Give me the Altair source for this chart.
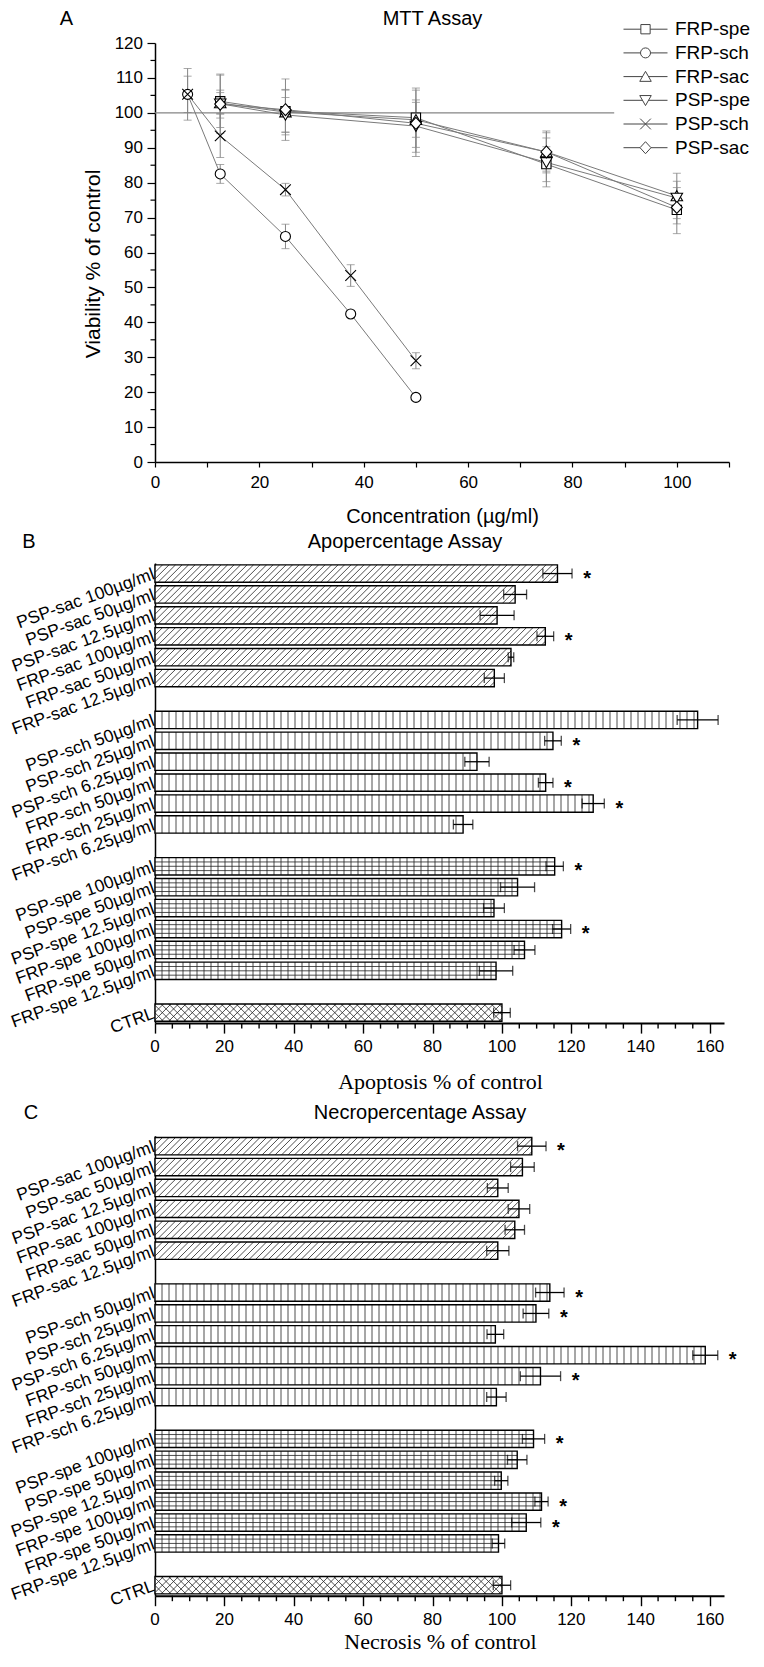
import json
import altair as alt
import pandas as pd

FONT = "Liberation Sans"
SERIF = "Liberation Serif"

# ---------------- Panel A : MTT assay (viability, % of control) ----------------
series_names = ["FRP-spe", "FRP-sch", "FRP-sac", "PSP-spe", "PSP-sch", "PSP-sac"]
conc_sch = [6.25, 12.5, 25, 37.5, 50]
conc_std = [12.5, 25, 50, 75, 100]

frp_spe = [103.3, 100.5, 98.6, 85.3, 72.2]
frp_spe_err = [7.5, 6.0, 8.5, 5.0, 4.0]
frp_sch = [105.3, 82.5, 64.6, 42.4, 18.5]
frp_sch_err = [7.4, 2.7, 3.5, 1.0, 1.0]
frp_sac = [102.8, 100.2, 98.0, 88.8, 76.2]
frp_sac_err = [3.0, 6.5, 5.0, 6.0, 6.5]
psp_spe = [102.6, 99.4, 96.2, 85.8, 75.6]
psp_spe_err = [8.5, 5.0, 7.5, 7.0, 3.0]
psp_sch = [105.3, 93.4, 78.0, 53.4, 29.0]
psp_sch_err = [5.2, 6.2, 1.8, 3.1, 2.3]
psp_sac = [102.5, 100.9, 97.0, 88.8, 72.9]
psp_sac_err = [4.0, 8.8, 9.5, 5.5, 7.5]

control_level = [100]
control_line_start = [0]
control_line_end = [88]

a_x_ticks = list(range(0, 111, 10))
a_y_major = list(range(0, 121, 10))
a_y_minor = list(range(5, 120, 10))

# ---------------- Panels B and C : bar categories ----------------
bar_labels = ["PSP-sac 100µg/ml", "PSP-sac 50µg/ml", "PSP-sac 12.5µg/ml",
              "FRP-sac 100µg/ml", "FRP-sac 50µg/ml", "FRP-sac 12.5µg/ml",
              "PSP-sch 50µg/ml", "PSP-sch 25µg/ml", "PSP-sch 6.25µg/ml",
              "FRP-sch 50µg/ml", "FRP-sch 25µg/ml", "FRP-sch 6.25µg/ml",
              "PSP-spe 100µg/ml", "PSP-spe 50µg/ml", "PSP-spe 12.5µg/ml",
              "FRP-spe 100µg/ml", "FRP-spe 50µg/ml", "FRP-spe 12.5µg/ml",
              "CTRL"]
bar_slots = [0, 1, 2, 3, 4, 5, 7, 8, 9, 10, 11, 12, 14, 15, 16, 17, 18, 19, 21]
bar_patterns = ["diag"] * 6 + ["vert"] * 6 + ["grid"] * 6 + ["cross"]

apop_values = [116.0, 103.8, 98.6, 112.5, 102.6, 97.8,
               156.4, 114.7, 92.8, 112.6, 126.3, 88.8,
               115.2, 104.5, 97.7, 117.2, 106.5, 98.3, 100.0]
apop_errs = [4.2, 3.3, 4.9, 2.4, 0.8, 2.9,
             5.9, 2.4, 3.5, 2.1, 3.2, 2.8,
             2.5, 4.9, 3.0, 2.6, 3.0, 4.8, 2.4]
apop_stars = [1, 0, 0, 1, 0, 0, 0, 1, 0, 1, 1, 0, 1, 0, 0, 1, 0, 0, 0]

necro_values = [108.6, 105.9, 98.8, 104.9, 103.7, 98.8,
                113.8, 109.8, 98.1, 158.6, 111.1, 98.4,
                109.1, 104.4, 99.8, 111.4, 107.0, 99.0, 100.0]
necro_errs = [4.1, 3.4, 3.0, 3.1, 2.8, 3.2,
              4.1, 3.7, 2.4, 3.6, 5.8, 2.8,
              3.2, 2.8, 1.9, 1.9, 4.2, 1.8, 2.5]
necro_stars = [1, 0, 0, 0, 0, 0, 1, 1, 0, 1, 1, 0, 1, 0, 0, 1, 1, 0, 0]

bc_x_major = list(range(0, 161, 20))
bc_x_minor = [v for v in range(5, 161, 5) if v % 20 != 0]

# ---------------- geometry / style ----------------
A_W, A_H = 574, 419
BC_W, BC_H = 569, 460
BC_XMAX = 164
N_SLOTS = 22
BAR_FRAC = 0.83
HATCH_STEP = 7.0
DIAG_STEP = 6.5
GRAY = "#858585"

# marker outlines (unit square -1..1)
plot_paths = [
    "M-0.93,-0.93L0.93,-0.93L0.93,0.93L-0.93,0.93Z",
    "M1,0A1,1,0,1,1,-1,0A1,1,0,1,1,1,0Z",
    "M0,-1.05L1.15,0.95L-1.15,0.95Z",
    "M0,1.05L1.15,-0.95L-1.15,-0.95Z",
    "M-1.07,-1.07L1.07,1.07M-1.07,1.07L1.07,-1.07",
    "M0,-1.2L1.1,0L0,1.2L-1.1,0Z",
]
legend_gap = [0.93, 1.0, 0.6, 0.6, 0.0, 1.1]
legend_paths = [
    "M-4.4,0L%.2f,0M%.2f,0L4.4,0" % (-g, g) + p for g, p in zip(legend_gap, plot_paths)
]

# ---------------- Panel A chart ----------------
rows = []
for name, cx, vals, errs in [
    ("FRP-spe", conc_std, frp_spe, frp_spe_err),
    ("FRP-sch", conc_sch, frp_sch, frp_sch_err),
    ("FRP-sac", conc_std, frp_sac, frp_sac_err),
    ("PSP-spe", conc_std, psp_spe, psp_spe_err),
    ("PSP-sch", conc_sch, psp_sch, psp_sch_err),
    ("PSP-sac", conc_std, psp_sac, psp_sac_err),
]:
    for c, v, e in zip(cx, vals, errs):
        rows.append({"series": name, "conc": c, "value": v, "lo": v - e, "hi": v + e})
df_a = pd.DataFrame(rows)
df_ref = pd.DataFrame({"x": control_line_start, "x2": control_line_end, "y": control_level})

xa_scale = alt.Scale(domain=[0, 110], nice=False, zero=False, padding=0)
ya_scale = alt.Scale(domain=[0, 120], nice=False, zero=False, padding=0)
xa_axis = alt.Axis(values=a_x_ticks,
                   labelExpr="datum.value % 20 === 0 && datum.value <= 100 ? datum.label : ''",
                   tickSize=5, tickWidth=1.2, domainWidth=1.5, labelFontSize=17,
                   labelPadding=7, labelFlush=False, labelOverlap=False,
                   titleFontSize=20, titlePadding=16, grid=False)
ya_axis = alt.Axis(values=a_y_major, tickSize=8, tickWidth=1.2, domainWidth=1.5,
                   labelFontSize=17, labelPadding=4.5, labelFlush=False, labelOverlap=False,
                   titleFontSize=21, titlePadding=10.5, titleY=A_H / 2 + 11, grid=False)


def XA(f):
    return alt.X(f, type="quantitative", scale=xa_scale, axis=xa_axis, title="Concentration (µg/ml)")


def YA(f):
    return alt.Y(f, type="quantitative", scale=ya_scale, axis=ya_axis, title="Viability % of control")


minor_a = alt.Chart(pd.DataFrame({"t": a_y_minor})).mark_rule(color="black", strokeWidth=1.2).encode(
    x=alt.value(0), x2=alt.value(-4.5), y=YA("t"))
ref_rule = alt.Chart(df_ref).mark_rule(color=GRAY, strokeWidth=1.2).encode(
    x=XA("x"), x2=alt.X2("x2"), y=YA("y"))
err_a = alt.Chart(df_a).mark_rule(color=GRAY, strokeWidth=1).encode(
    x=XA("conc"), y=YA("lo"), y2=alt.Y2("hi"))
caps_a = alt.Chart(df_a).transform_fold(["lo", "hi"], as_=["end", "endval"]).mark_tick(
    orient="horizontal", size=8, thickness=1, color=GRAY).encode(x=XA("conc"), y=YA("endval:Q"))
lines_a = alt.Chart(df_a).mark_line(color="#7a7a7a", strokeWidth=1).encode(
    x=XA("conc"), y=YA("value"), detail="series:N")
point_layers = []
for name, path in zip(series_names, plot_paths):
    point_layers.append(
        alt.Chart(df_a).transform_filter(alt.datum.series == name).mark_point(
            shape=path, filled=True, fill="white", stroke="black", strokeWidth=1.1,
            size=100, opacity=1).encode(x=XA("conc"), y=YA("value"))
    )
# invisible copy of the points that only carries the legend (symbol with line segment)
legend_layer = alt.Chart(df_a).mark_point(
    filled=False, stroke="#444", strokeWidth=1, size=100, opacity=0).encode(
    x=XA("conc"), y=YA("value"),
    shape=alt.Shape("series:N", scale=alt.Scale(domain=series_names, range=legend_paths),
                    legend=alt.Legend(orient="none", legendX=481, legendY=-23.3, title=None,
                                      labelFont=FONT, labelFontSize=19, labelColor="black",
                                      symbolSize=100, symbolStrokeWidth=1, symbolOpacity=1,
                                      symbolFillColor="white", symbolStrokeColor="#444",
                                      labelOffset=20, rowPadding=3.7, padding=0, labelLimit=200)))
title_a = alt.Chart(pd.DataFrame({"t": ["MTT Assay"]})).mark_text(
    fontSize=20, font=FONT, align="center", baseline="middle").encode(
    text="t:N", x=alt.value(277.5), y=alt.value(-24.5))
letter_a = alt.Chart(pd.DataFrame({"t": ["A"]})).mark_text(
    fontSize=20, font=FONT, align="center", baseline="middle").encode(
    text="t:N", x=alt.value(-88.5), y=alt.value(-24.5))

panel_a = alt.layer(minor_a, ref_rule, err_a, caps_a, lines_a, *point_layers, legend_layer,
                    title_a, letter_a).properties(width=A_W, height=A_H)

# ---------------- Panels B / C ----------------
px_x = BC_W / BC_XMAX
px_y = BC_H / N_SLOTS
names_by_slot = [""] * N_SLOTS
for s, lab in zip(bar_slots, bar_labels):
    names_by_slot[s] = lab
label_expr = json.dumps(names_by_slot, ensure_ascii=False) + "[datum.value]"


def hatch_rows(values):
    out = []
    half = BAR_FRAC / 2
    hpx = BAR_FRAC * px_y
    for v, s, k in zip(values, bar_slots, bar_patterns):
        top, bot = s - half, s + half
        vpx = v * px_x
        if k in ("vert", "grid"):
            x = HATCH_STEP
            while x < vpx - 1:
                out.append({"x": x / px_x, "x2": x / px_x, "y": top, "y2": bot})
                x += HATCH_STEP
        if k == "grid":
            for f in (0.25, 0.5, 0.75):
                yy = top + f * (bot - top)
                out.append({"x": 0, "x2": v, "y": yy, "y2": yy})
        if k in ("diag", "cross"):
            dirs = [1] if k == "diag" else [1, -1]
            step = DIAG_STEP if k == "diag" else 7.5
            for d in dirs:
                c = -hpx + 1.0
                while c < vpx:
                    x0, x1 = max(c, 0.0), min(c + hpx, vpx)
                    if x1 - x0 > 0.2:
                        t0, t1 = (x0 - c) / hpx, (x1 - c) / hpx
                        if d == 1:
                            y0, y1 = bot + t0 * (top - bot), bot + t1 * (top - bot)
                        else:
                            y0, y1 = top + t0 * (bot - top), top + t1 * (bot - top)
                        out.append({"x": x0 / px_x, "x2": x1 / px_x, "y": y0, "y2": y1})
                    c += step
    return pd.DataFrame(out)


def bar_panel(values, errs, stars, title, xtitle, letter, title_x, title_y, letter_x, letter_y,
              xtitle_y):
    half = BAR_FRAC / 2
    df = pd.DataFrame({
        "label": bar_labels, "slot": bar_slots, "value": values, "err": errs, "star": stars,
    })
    df["zero"] = 0.0
    df["top"] = df["slot"] - half
    df["bot"] = df["slot"] + half
    df["lo"] = df["value"] - df["err"]
    df["hi"] = df["value"] + df["err"]
    dfh = hatch_rows(values)

    xs = alt.Scale(domain=[0, BC_XMAX], nice=False, zero=False, padding=0)
    ys = alt.Scale(domain=[-0.5, N_SLOTS - 0.5], reverse=True, nice=False, zero=False, padding=0)
    xaxis = alt.Axis(values=bc_x_major, tickSize=10, tickWidth=1.4, domainWidth=2,
                     labels=False, grid=False)
    yaxis = alt.Axis(values=bar_slots, labelExpr=label_expr, ticks=False, domainWidth=1.5,
                     labelAngle=340, labelAlign="right", labelBaseline="middle",
                     labelFontSize=17.5, labelPadding=1.5, labelOverlap=False, labelLimit=300,
                     grid=False)

    def X(f):
        return alt.X(f, type="quantitative", scale=xs, axis=xaxis, title=None)

    def Y(f):
        return alt.Y(f, type="quantitative", scale=ys, axis=yaxis, title=None)

    base = alt.Chart(df)
    minor = alt.Chart(pd.DataFrame({"t": bc_x_minor})).mark_rule(color="black", strokeWidth=1.4).encode(
        x=X("t"), y=alt.value(BC_H), y2=alt.value(BC_H + 5.5))
    tick_text = alt.Chart(pd.DataFrame({"t": bc_x_major})).mark_text(
        fontSize=17, font=FONT, align="center", baseline="middle").encode(
        x=X("t"), y=alt.value(BC_H + 24), text=alt.Text("t:Q", format="d"))
    xtitle_text = alt.Chart(pd.DataFrame({"t": [xtitle]})).mark_text(
        fontSize=22, font=SERIF, align="center", baseline="middle").encode(
        text="t:N", x=alt.value(BC_W / 2 + 1), y=alt.value(BC_H + xtitle_y))
    fill = base.mark_rect(fill="white").encode(x=X("zero"), x2=alt.X2("value"), y=Y("top"), y2=alt.Y2("bot"))
    hatch = alt.Chart(dfh).mark_rule(color="#222", strokeWidth=0.8).encode(
        x=X("x"), x2=alt.X2("x2"), y=Y("y"), y2=alt.Y2("y2"))
    outline = base.mark_rect(fill="transparent", stroke="black", strokeWidth=1.4).encode(
        x=X("zero"), x2=alt.X2("value"), y=Y("top"), y2=alt.Y2("bot"))
    err = base.mark_rule(color="black", strokeWidth=1.3).encode(x=X("lo"), x2=alt.X2("hi"), y=Y("slot"))
    caps = base.transform_fold(["lo", "hi"], as_=["end", "endval"]).mark_tick(
        orient="vertical", size=10, thickness=1.3, color="black").encode(x=X("endval:Q"), y=Y("slot"))
    star = base.transform_filter(alt.datum.star == 1).mark_text(
        text="*", fontSize=20, fontWeight="bold", font=FONT, dx=15, dy=5, baseline="middle").encode(
        x=X("hi"), y=Y("slot"))
    ttl = alt.Chart(pd.DataFrame({"t": [title]})).mark_text(
        fontSize=20, font=FONT, align="center", baseline="middle").encode(
        text="t:N", x=alt.value(title_x), y=alt.value(title_y))
    let = alt.Chart(pd.DataFrame({"t": [letter]})).mark_text(
        fontSize=20, font=FONT, align="center", baseline="middle").encode(
        text="t:N", x=alt.value(letter_x), y=alt.value(letter_y))
    return alt.layer(minor, fill, hatch, outline, err, caps, star, tick_text, xtitle_text,
                     ttl, let).properties(width=BC_W, height=BC_H)


panel_b = bar_panel(apop_values, apop_errs, apop_stars, "Apopercentage Assay",
                    "Apoptosis % of control", "B", 250, -21.6, -126, -21.6, 58.5)
panel_c = bar_panel(necro_values, necro_errs, necro_stars, "Necropercentage Assay",
                    "Necrosis % of control", "C", 265, -23, -124, -23, 46)

chart = alt.vconcat(
    panel_a,
    alt.vconcat(panel_b, panel_c, spacing=112.6, bounds="flush"),
    spacing=101.1, bounds="flush",
).properties(padding={"left": 0, "right": 0, "top": 0, "bottom": 0}).configure(
    font=FONT).configure_view(stroke=None).configure_axis(
    labelColor="black", titleColor="black", domainColor="black", tickColor="black",
    labelFont=FONT, titleFont=FONT, titleFontWeight="normal")

chart.save("out.html", embed_options={"renderer": "svg", "actions": False})
